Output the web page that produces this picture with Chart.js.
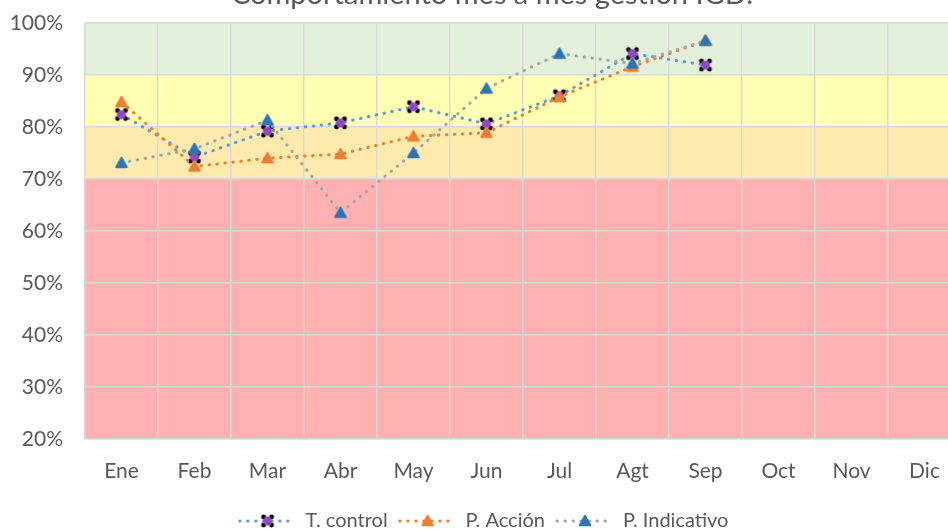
<!DOCTYPE html>
<html><head><meta charset="utf-8">
<script src="https://cdn.jsdelivr.net/npm/chart.js@4"></script>
<style>
html,body{margin:0;padding:0;background:#fff;overflow:hidden;width:948px;height:529px}
#wrap{position:absolute;left:0;top:-30px;width:970px;height:575px}
</style></head><body>
<div id="wrap"><canvas id="c" width="970" height="575"></canvas></div>
<script>
// datos (porcentaje)
const meses=["Ene","Feb","Mar","Abr","May","Jun","Jul","Agt","Sep","Oct","Nov","Dic"];
const tControl=[82.4,74.2,79.2,80.8,83.9,80.6,86.0,94.1,91.9,null,null,null];
const pAccion=[84.8,72.4,74.0,74.8,78.2,78.9,85.8,91.6,96.6,null,null,null];
const pIndicativo=[73.1,75.8,81.3,63.5,75.0,87.4,94.1,92.2,96.6,null,null,null];
const series=["T. control","P. Acción","P. Indicativo"];
const titulo='Comportamiento mes a mes gestión IGD.';
const bandLimits=[100,90,80,70,20];
const bandColors=["#E2EFDA","#FFFFB3","#FFEAAD","#FFB1B1"];

const gris='#595959';
const fam='Lato';
const dash=[0.5,7.5];

function markerControl(){
  const c=document.createElement('canvas');c.width=c.height=16;
  const x=c.getContext('2d');
  x.fillStyle='#000';
  [[-4,-4],[4,-4],[-4,4],[4,4]].forEach(([dx,dy])=>{x.beginPath();x.arc(8+dx,8+dy,2.4,0,7);x.fill();});
  x.fillStyle='#9147C8';x.beginPath();x.arc(8,8,4.6,0,7);x.fill();
  return c;
}
function markerTri(col){
  const c=document.createElement('canvas');c.width=c.height=14;
  const x=c.getContext('2d');
  x.fillStyle=col;x.strokeStyle=col;x.lineWidth=2.2;x.lineJoin='round';
  x.beginPath();x.moveTo(7,2);x.lineTo(12.2,11.2);x.lineTo(1.8,11.2);x.closePath();x.fill();x.stroke();
  return c;
}
function legendSample(lineCol,mark){
  const c=document.createElement('canvas');c.width=60;c.height=16;
  const x=c.getContext('2d');
  x.strokeStyle=lineCol;x.lineWidth=3;x.lineCap='round';x.setLineDash(dash);
  x.beginPath();x.moveTo(2,8);x.lineTo(58,8);x.stroke();
  x.drawImage(mark,30-mark.width/2,8-mark.height/2);
  return c;
}
const mC=markerControl(), mA=markerTri('#ED7D31'), mI=markerTri('#2E75B6');
const lineCols=['#5B9BD5','#ED7D31','#A5A5A5'];
const marks=[mC,mA,mI];

const bandPlugin={id:'bandas',beforeDraw(chart){
  const {ctx,chartArea:a,scales:{y}}=chart;
  ctx.save();
  for(let i=0;i<bandColors.length;i++){
    const t=y.getPixelForValue(bandLimits[i]), b=y.getPixelForValue(bandLimits[i+1]);
    ctx.fillStyle=bandColors[i];
    ctx.fillRect(a.left-1,t,a.right-a.left+1,b-t);
  }
  ctx.restore();
}};
// titulo centrado sobre el ancho completo del grafico original (recortado a la derecha)
const tituloPlugin={id:'titulo',afterDraw(chart){
  const ctx=chart.ctx;
  ctx.save();
  ctx.font='29px '+fam;ctx.fillStyle=gris;ctx.textAlign='center';ctx.textBaseline='middle';
  ctx.fillText(titulo,492,24.4);
  ctx.restore();
}};

function ds(i,data,ord){
  return {label:series[i],data:data,borderColor:lineCols[i],borderWidth:3,borderDash:dash,
    borderCapStyle:'round',pointStyle:marks[i],pointRadius:6,pointHoverRadius:6,
    tension:0,fill:false,order:ord};
}

new Chart(document.getElementById('c'),{
  type:'line',
  data:{labels:meses,datasets:[ds(0,tControl,2),ds(1,pAccion,1),ds(2,pIndicativo,0)]},
  options:{
    responsive:false,animation:false,
    layout:{padding:{left:0,right:2,top:53,bottom:4}},
    scales:{
      x:{offset:true,grid:{offset:true,color:'#D9D9D9',lineWidth:1.5,drawTicks:false},
        border:{color:'#D9D9D9',width:1.5},
        ticks:{color:gris,font:{family:fam,size:21},padding:20,maxRotation:0,autoSkip:false},
        afterFit(s){s.height=60;}},
      y:{min:20,max:100,
        ticks:{stepSize:10,callback:v=>v+'%',color:gris,font:{family:fam,size:21},padding:22},
        grid:{color:'#D9D9D9',lineWidth:1.5,drawTicks:false},border:{display:false},
        afterFit(s){s.width=85;}}
    },
    plugins:{
      title:{display:false},
      legend:{position:'bottom',
        labels:{usePointStyle:true,pointStyleWidth:56,color:gris,padding:12,
          font:{family:fam,size:20},
          generateLabels(chart){
            return chart.data.datasets.map((d,i)=>({text:d.label,pointStyle:legendSample(lineCols[i],marks[i]),
              fillStyle:'transparent',strokeStyle:'transparent',lineWidth:0,hidden:false,datasetIndex:i,fontColor:gris}));
          }}},
      tooltip:{enabled:false}
    }
  },
  plugins:[bandPlugin,tituloPlugin]
});
</script>
</body></html>
